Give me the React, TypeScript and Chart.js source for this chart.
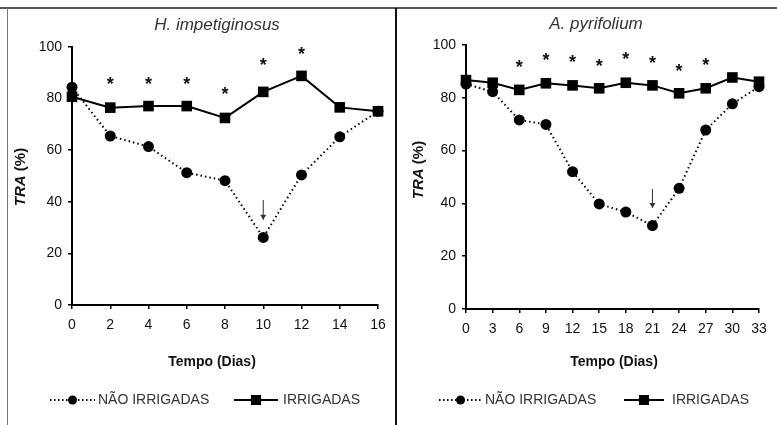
import React, { useEffect, useRef } from "react";
import { Chart, registerables } from "chart.js";
Chart.register(...registerables);

// ---- Data: H. impetiginosus ----
const daysH = [0, 2, 4, 6, 8, 10, 12, 14, 16];
const irrigH = [80.7, 76.5, 77.1, 77.1, 72.5, 82.6, 88.8, 76.6, 75.1];
const naoIrrigH = [84.4, 65.5, 61.4, 51.3, 48.2, 26.2, 50.4, 65.2, 75.1];
const starDaysH = [2, 4, 6, 8, 10, 12];
const starValsH = [87.2, 87.2, 87.2, 83.2, 94.6, 98.8];
const arrowDayH = 10;
const arrowFromH = 40.7;
const arrowToH = 33;

// ---- Data: A. pyrifolium ----
const daysA = [0, 3, 6, 9, 12, 15, 18, 21, 24, 27, 30, 33];
const irrigA = [86.7, 85.7, 83.0, 85.5, 84.7, 83.6, 85.7, 84.7, 81.7, 83.6, 87.7, 86.1];
const naoIrrigA = [85.2, 82.3, 71.6, 69.9, 52.0, 39.8, 36.7, 31.6, 45.7, 67.8, 77.7, 84.2];
const starDaysA = [6, 9, 12, 15, 18, 21, 24, 27];
const starValsA = [93.0, 95.8, 95.0, 93.7, 96.2, 94.6, 91.8, 94.0];
const arrowDayA = 21;
const arrowFromA = 45.5;
const arrowToA = 38.3;

const labelNao = "NÃO IRRIGADAS";
const labelIrr = "IRRIGADAS";
const xTitle = "Tempo (Dias)";

const FONT = "'Liberation Sans', Arial, sans-serif";

const decorPlugin = {
  id: "decor",
  afterDraw(chart: any) {
    const o = chart.options.plugins.decor;
    if (!o) return;
    const ctx = chart.ctx;
    const xs = chart.scales.x;
    const ys = chart.scales.y;
    ctx.save();
    // title
    ctx.fillStyle = "#333";
    ctx.font = `italic 17px ${FONT}`;
    ctx.textAlign = "center";
    ctx.textBaseline = "middle";
    ctx.fillText(o.title, o.titleX, o.titleY);
    // x title
    ctx.fillStyle = "#111";
    ctx.font = `bold 14px ${FONT}`;
    ctx.fillText(xTitle, o.xTitleX, o.xTitleY);
    // y title (rotated, mixed style)
    ctx.save();
    ctx.translate(o.yTitleX, o.yTitleY);
    ctx.rotate(-Math.PI / 2);
    ctx.textAlign = "left";
    const f1 = `bold italic 15px ${FONT}`;
    const f2 = `bold 15px ${FONT}`;
    ctx.font = f1;
    const w1 = ctx.measureText("TRA").width;
    ctx.font = f2;
    const w2 = ctx.measureText(" (%)").width;
    const start = -(w1 + w2) / 2;
    ctx.font = f1;
    ctx.fillText("TRA", start, 0);
    ctx.font = f2;
    ctx.fillText(" (%)", start + w1, 0);
    ctx.restore();
    // asterisks
    ctx.fillStyle = "#111";
    ctx.font = `bold 18px ${FONT}`;
    ctx.textAlign = "center";
    ctx.textBaseline = "alphabetic";
    o.starDays.forEach((d: number, i: number) => {
      const px = xs.getPixelForValue(d);
      const py = ys.getPixelForValue(o.starVals[i]);
      ctx.fillText("*", px, py + 10);
    });
    // arrow
    const ax = xs.getPixelForValue(o.arrowDay);
    const ay1 = ys.getPixelForValue(o.arrowFrom);
    const ay2 = ys.getPixelForValue(o.arrowTo);
    ctx.strokeStyle = "#333";
    ctx.lineWidth = 1;
    ctx.beginPath();
    ctx.moveTo(ax, ay1);
    ctx.lineTo(ax, ay2);
    ctx.stroke();
    ctx.fillStyle = "#333";
    ctx.beginPath();
    ctx.moveTo(ax - 3, ay2 - 5);
    ctx.lineTo(ax + 3, ay2 - 5);
    ctx.lineTo(ax, ay2);
    ctx.closePath();
    ctx.fill();
    // legend
    const ly = o.legendY;
    o.legend.forEach((it: any) => {
      ctx.strokeStyle = "#000";
      ctx.lineWidth = 2;
      ctx.setLineDash(it.dashed ? [1.5, 2.5] : []);
      ctx.beginPath();
      ctx.moveTo(it.x1, ly);
      ctx.lineTo(it.x2, ly);
      ctx.stroke();
      ctx.setLineDash([]);
      ctx.fillStyle = "#000";
      const mx = (it.x1 + it.x2) / 2;
      if (it.circle) {
        ctx.beginPath();
        ctx.arc(mx, ly, 4.5, 0, Math.PI * 2);
        ctx.fill();
      } else {
        ctx.fillRect(mx - 5, ly - 5, 10, 10);
      }
      ctx.fillStyle = "#333";
      ctx.font = `14px ${FONT}`;
      ctx.textAlign = "left";
      ctx.textBaseline = "middle";
      ctx.fillText(it.text, it.tx, ly);
    });
    ctx.restore();
  },
};

function makeConfig(
  days: number[],
  irr: number[],
  nao: number[],
  step: number,
  yWidth: number,
  pad: any,
  decor: any
): any {
  return {
    type: "line",
    data: {
      datasets: [
        {
          label: labelIrr,
          data: days.map((d, i) => ({ x: d, y: irr[i] })),
          borderColor: "#000",
          backgroundColor: "#000",
          borderWidth: 2,
          pointStyle: "rect",
          pointRadius: 7.5,
          pointBorderWidth: 0,
          tension: 0,
          clip: false,
        },
        {
          label: labelNao,
          data: days.map((d, i) => ({ x: d, y: nao[i] })),
          borderColor: "#000",
          backgroundColor: "#000",
          borderWidth: 2,
          borderDash: [1.5, 3],
          pointStyle: "circle",
          pointRadius: 5.5,
          pointBorderWidth: 0,
          tension: 0,
          clip: false,
        },
      ],
    },
    options: {
      animation: false,
      responsive: false,
      maintainAspectRatio: false,
      layout: { padding: pad },
      plugins: {
        legend: { display: false },
        title: { display: false },
        tooltip: { enabled: false },
        decor,
      },
      scales: {
        x: {
          type: "linear",
          min: 0,
          max: days[days.length - 1],
          afterFit: (s: any) => {
            s.height = 28;
          },
          afterBuildTicks: (s: any) => {
            s.ticks = days.map((d) => ({ value: d }));
          },
          ticks: {
            stepSize: step,
            color: "#111",
            font: { family: FONT, size: 14 },
            padding: 8,
            maxRotation: 0,
            autoSkip: false,
          },
          grid: {
            display: true,
            drawOnChartArea: false,
            drawTicks: true,
            tickLength: 4,
            color: "#000",
            lineWidth: 1.5,
          },
          border: { display: true, color: "#000", width: 2 },
        },
        y: {
          min: 0,
          max: 100,
          afterFit: (s: any) => {
            s.width = yWidth;
          },
          ticks: {
            stepSize: 20,
            color: "#111",
            font: { family: FONT, size: 14 },
            padding: 6,
          },
          grid: {
            display: true,
            drawOnChartArea: false,
            drawTicks: true,
            tickLength: 4,
            color: "#000",
            lineWidth: 1.5,
          },
          border: { display: true, color: "#000", width: 2 },
        },
      },
    },
    plugins: [decorPlugin],
  };
}

function ChartCanvas(props: { config: any; left: number; top: number; width: number; height: number }) {
  const ref = useRef<HTMLCanvasElement | null>(null);
  useEffect(() => {
    if (!ref.current) return;
    const chart = new Chart(ref.current, props.config);
    return () => chart.destroy();
  }, []);
  return (
    <canvas
      ref={ref}
      width={props.width}
      height={props.height}
      style={{
        position: "absolute",
        left: props.left,
        top: props.top,
        width: props.width,
        height: props.height,
      }}
    />
  );
}

export default function App() {
  const cfgH = makeConfig(daysH, irrigH, naoIrrigH, 2, 64, { left: 0, top: 37, right: 16, bottom: 92 }, {
    title: "H. impetiginosus",
    titleX: 209,
    titleY: 15,
    xTitleX: 204,
    xTitleY: 352,
    yTitleX: 13,
    yTitleY: 167,
    starDays: starDaysH,
    starVals: starValsH,
    arrowDay: arrowDayH,
    arrowFrom: arrowFromH,
    arrowTo: arrowToH,
    legendY: 390,
    legend: [
      { x1: 42, x2: 87, circle: true, dashed: true, text: labelNao, tx: 90 },
      { x1: 226, x2: 270, circle: false, dashed: false, text: labelIrr, tx: 275 },
    ],
  });
  const cfgA = makeConfig(daysA, irrigA, naoIrrigA, 3, 68, { left: 0, top: 35, right: 18, bottom: 88 }, {
    title: "A. pyrifolium",
    titleX: 198,
    titleY: 14,
    xTitleX: 216,
    xTitleY: 352,
    yTitleX: 21,
    yTitleY: 160,
    starDays: starDaysA,
    starVals: starValsA,
    arrowDay: arrowDayA,
    arrowFrom: arrowFromA,
    arrowTo: arrowToA,
    legendY: 390,
    legend: [
      { x1: 41, x2: 84, circle: true, dashed: true, text: labelNao, tx: 87 },
      { x1: 226, x2: 266, circle: false, dashed: false, text: labelIrr, tx: 274 },
    ],
  });
  return (
    <div style={{ position: "absolute", left: 0, top: 0, width: 777, height: 425, background: "#fff", overflow: "hidden" }}>
      <div style={{ position: "absolute", left: 0, top: 7, width: 777, height: 2, background: "#555" }} />
      <div style={{ position: "absolute", left: 7, top: 8, width: 1, height: 417, background: "#777" }} />
      <div style={{ position: "absolute", left: 395, top: 8, width: 2, height: 417, background: "#111" }} />
      <ChartCanvas config={cfgH} left={8} top={10} width={386} height={415} />
      <ChartCanvas config={cfgA} left={398} top={10} width={379} height={415} />
    </div>
  );
}
